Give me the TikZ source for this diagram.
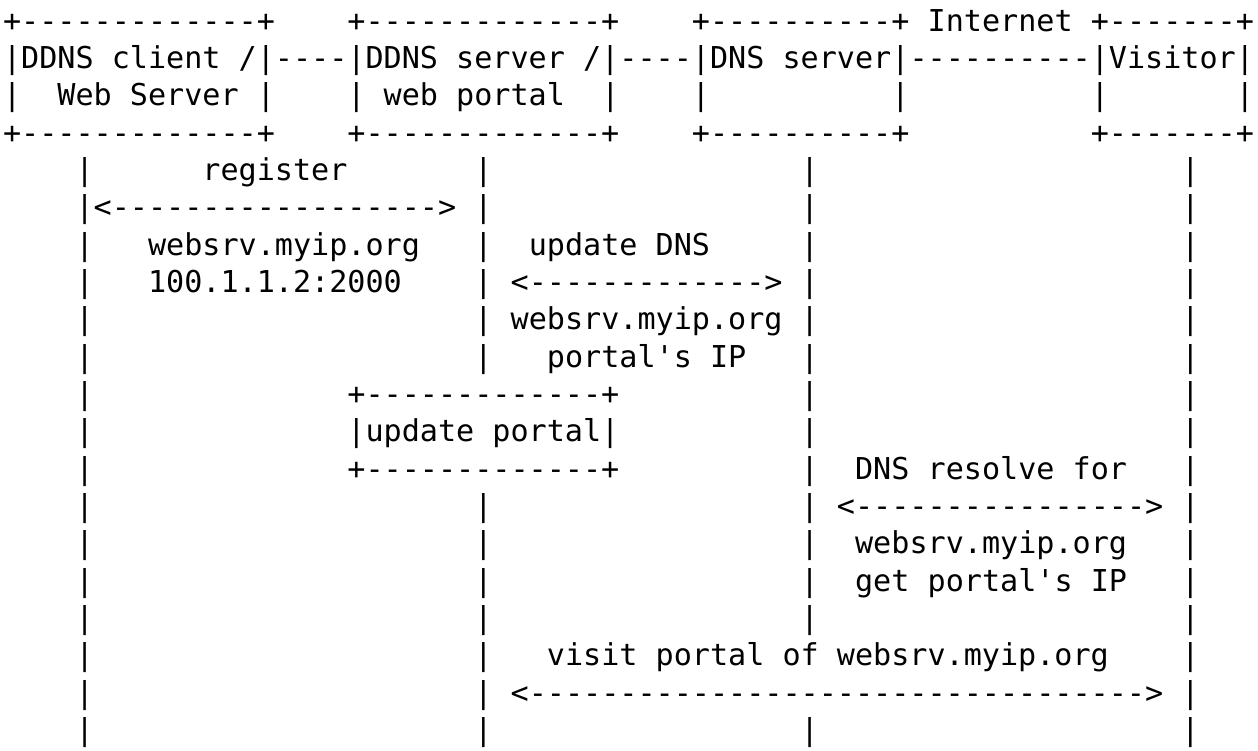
\documentclass[tikz,border=0pt]{standalone}
\usepackage{fontspec}
\setmonofont{DejaVu Sans Mono}
\ExplSyntaxOn
\cs_new:Npn \dashrun #1 { \prg_replicate:nn {#1} {-} }
\ExplSyntaxOff
\newcommand\boxedge[1]{+\dashrun{#1}+}
\newcommand\asc[4]{\node[txt] (#1) at ({3+18.13*(#3)},{-31-37.35*((#2)-1)}) {#4};}
\begin{document}
\begin{tikzpicture}[x=1pt,y=1pt,
  txt/.style={inner sep=0pt, outer sep=0pt, anchor=base west,
    font=\ttfamily\fontsize{30.11pt}{37.5pt}\selectfont\frenchspacing, text=black}]
\path[use as bounding box, fill=white] (0,0) rectangle (1258,-750);
% row 1
\asc{clientT}{1}{0}{\boxedge{13}}
\asc{portalT}{1}{19}{\boxedge{13}}
\asc{dnsT}{1}{38}{\boxedge{10}}
\asc{internet}{1}{51}{Internet}
\asc{visitorT}{1}{60}{\boxedge{7}}
% row 2
\asc{client}{2}{0}{|DDNS client /|}
\asc{linkA}{2}{15}{\dashrun{4}}
\asc{portal}{2}{19}{|DDNS server /|}
\asc{linkB}{2}{34}{\dashrun{4}}
\asc{dns}{2}{38}{|DNS server|}
\asc{linkC}{2}{50}{\dashrun{10}}
\asc{visitor}{2}{60}{|Visitor|}
% row 3
\asc{clientL}{3}{0}{|}
\asc{clientB}{3}{3}{Web Server}
\asc{clientR}{3}{14}{|}
\asc{portalL}{3}{19}{|}
\asc{portalB}{3}{21}{web portal}
\asc{portalR}{3}{33}{|}
\asc{dnsL}{3}{38}{|}
\asc{dnsR}{3}{49}{|}
\asc{visitorL}{3}{60}{|}
\asc{visitorR}{3}{68}{|}
% row 4
\asc{clientBot}{4}{0}{\boxedge{13}}
\asc{portalBot}{4}{19}{\boxedge{13}}
\asc{dnsBot}{4}{38}{\boxedge{10}}
\asc{visitorBot}{4}{60}{\boxedge{7}}
% messages
\asc{register}{5}{11}{register}
\asc{regArrow}{6}{5}{<\dashrun{18}>}
\asc{regHost}{7}{8}{websrv.myip.org}
\asc{regAddr}{8}{8}{100.1.1.2:2000}
\asc{updDNS}{7}{29}{update DNS}
\asc{updArrow}{8}{28}{<\dashrun{13}>}
\asc{updHost}{9}{28}{websrv.myip.org}
\asc{updIP}{10}{30}{portal's IP}
\asc{updPortalT}{11}{19}{\boxedge{13}}
\asc{updPortal}{12}{19}{|update portal|}
\asc{updPortalB}{13}{19}{\boxedge{13}}
\asc{resolve}{13}{47}{DNS resolve for}
\asc{resArrow}{14}{46}{<\dashrun{16}>}
\asc{resHost}{15}{47}{websrv.myip.org}
\asc{resIP}{16}{47}{get portal's IP}
\asc{visit}{18}{30}{visit portal of websrv.myip.org}
\asc{visArrow}{19}{28}{<\dashrun{34}>}
% lifelines
\foreach \r in {5,...,20}{\asc{lc\r}{\r}{4}{|}}
\foreach \r in {5,...,10,14,15,...,20}{\asc{lp\r}{\r}{26}{|}}
\foreach \r in {5,...,17,20}{\asc{ld\r}{\r}{44}{|}}
\foreach \r in {5,...,20}{\asc{lv\r}{\r}{65}{|}}
\end{tikzpicture}
\end{document}
